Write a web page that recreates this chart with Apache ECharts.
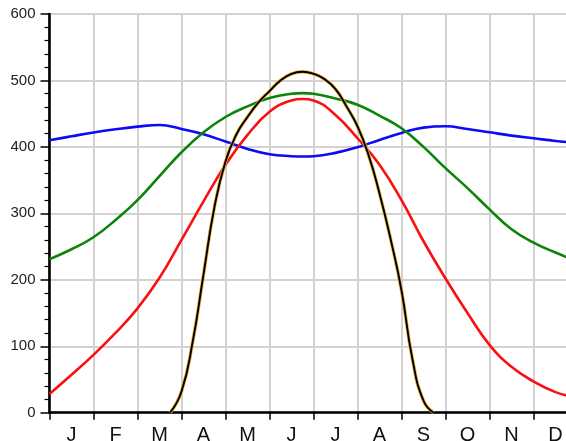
<!DOCTYPE html>
<html>
<head>
<meta charset="utf-8">
<script src="https://cdn.jsdelivr.net/npm/echarts@6/dist/echarts.min.js"></script>
<style>
html,body{margin:0;padding:0;background:#fff;}
#chart{width:566px;height:441px;}
</style>
</head>
<body>
<div id="chart"></div>
<script>
// Month labels (centered in each month band)
const months = ['J','F','M','A','M','J','J','A','S','O','N','D'];
// y-axis range / ticks
const yTicks = [0,100,200,300,400,500,600];

// Shared sample positions (in months) for blue, green and red
const xMonths = [0,0.5,1,1.5,2,2.5,3,3.5,4,4.5,5,5.5,5.75,6,6.5,7,7.5,8,8.5,9,9.5,10,10.5,11,11.5,12];
const blueVals  = [410,416,421.7,426.5,430.5,433,427,419,408,397,389,386,385.5,386,391,399.5,410.5,421,429,431,427,422,417,413,409,406];
const greenVals = [231,246,264,290,320,356,392,422,445,461,473.5,480,481,480,473,463.5,447,428,400,368,338,306,276,256,241,228];
const redVals   = [28,57,87,120,157,203,260,318,373,418,453,470,472,470,448,413,373,320,258,202,150,102,69,47,31,22];

// Black curve samples (in months) and values
const blackX    = [2.74,3.0,3.25,3.5,3.75,4.0,4.25,4.5,4.75,5.0,5.25,5.5,5.75,6.0,6.25,6.5,6.75,7.0,7.25,7.5,7.75,8.0,8.25,8.5,8.73];
const blackVals = [0,32,105,208,310,378,419,445,467,484,500,510,513,510,502,487,461,431,388,330,262,184,80,18,0];

function zip(xs, ys){ return xs.map((x,i)=>[x, ys[i]]); }

const chart = echarts.init(document.getElementById('chart'));
const font = '"Liberation Sans", Arial, Helvetica, sans-serif';
const gridColor = '#d4d2d0';

function lineSeries(name, data, color, width, z, smooth){
  return {
    name, type:'line', xAxisIndex:0, yAxisIndex:0,
    data, smooth:smooth, showSymbol:false, symbol:'none',
    lineStyle:{color, width}, z, animation:false, clip:true
  };
}

chart.setOption({
  animation:false,
  grid:{left:49.5, top:14, width:528, height:398.7, containLabel:false, outerBoundsMode:'none',
        show:true, borderColor:'#222', borderWidth:2, backgroundColor:'transparent'},
  xAxis:[
    {
      type:'value', min:0, max:12, interval:1,
      axisLine:{show:true, lineStyle:{color:'#000', width:2.5}},
      axisTick:{show:true, length:7, lineStyle:{color:'#000', width:1.5}},
      axisLabel:{show:false},
      splitLine:{show:true, lineStyle:{color:gridColor, width:2}}
    },
    {
      type:'category', data:months, position:'bottom', boundaryGap:true,
      axisLine:{show:false}, axisTick:{show:false}, splitLine:{show:false},
      axisLabel:{show:true, interval:0, margin:12.5, fontSize:20, color:'#111', fontFamily:font}
    }
  ],
  yAxis:{
    type:'value', min:yTicks[0], max:yTicks[yTicks.length-1], interval:100,
    axisLine:{show:true, lineStyle:{color:'#000', width:2.5}},
    axisTick:{show:true, length:9, lineStyle:{color:'#000', width:1.5}},
    minorTick:{show:true, splitNumber:5, length:5, lineStyle:{color:'#000', width:1.2}},
    axisLabel:{margin:14, fontSize:15, color:'#222', fontFamily:font},
    splitLine:{show:true, lineStyle:{color:gridColor, width:2}}
  },
  series:[
    lineSeries('blue', zip(xMonths, blueVals), '#0b0bf5', 2.6, 2, 0.45),
    lineSeries('green', zip(xMonths, greenVals), '#0a850a', 2.6, 3, 0.45),
    lineSeries('red', zip(xMonths, redVals), '#fa1010', 2.6, 4, 0.45),
    lineSeries('blackOutline', zip(blackX, blackVals), '#e2ae3c', 3.4, 5, 0.5),
    lineSeries('black', zip(blackX, blackVals), '#000000', 1.9, 6, 0.5)
  ]
});
</script>
</body>
</html>
